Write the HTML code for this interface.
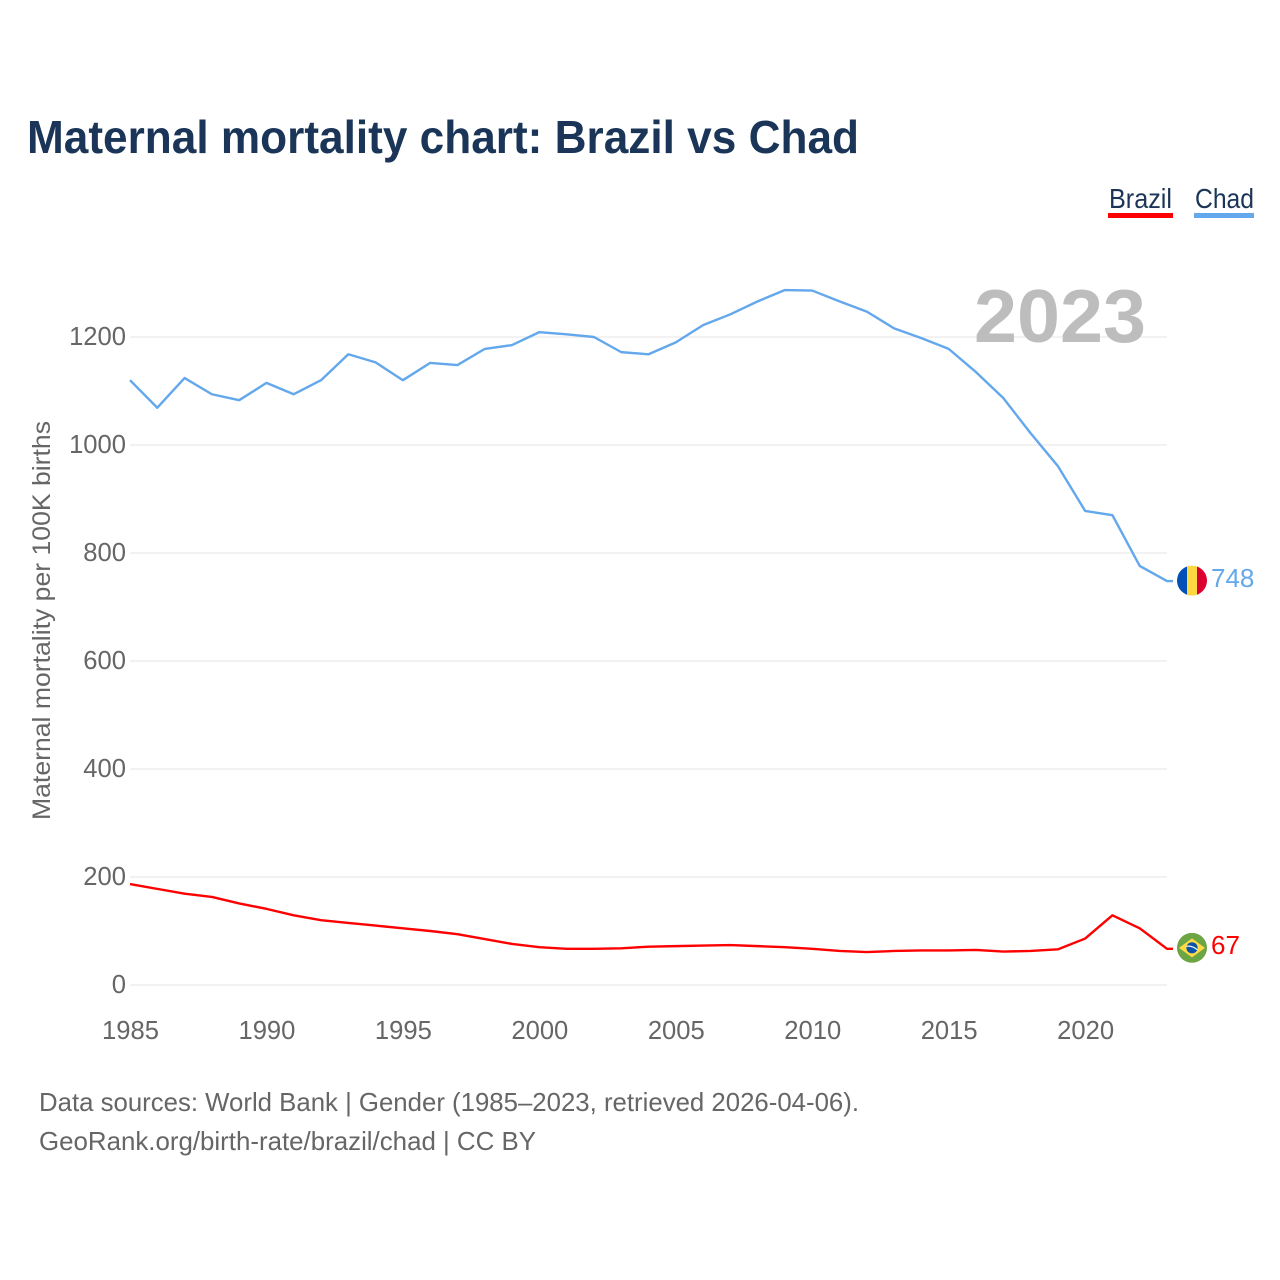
<!DOCTYPE html>
<html lang="en">
<head>
<meta charset="utf-8">
<title>Maternal mortality chart: Brazil vs Chad</title>
<style>
  html, body { margin: 0; padding: 0; background: #fff; }
  svg { display: block; font-family: "Liberation Sans", sans-serif; }
</style>
</head>
<body>
<svg id="chart" xmlns="http://www.w3.org/2000/svg" width="1280" height="1280" viewBox="0 0 1280 1280">
  <rect width="1280" height="1280" fill="#ffffff"/>
  <text x="27" y="153" font-size="46" font-weight="700" fill="#1a3557" textLength="832" lengthAdjust="spacingAndGlyphs">Maternal mortality chart: Brazil vs Chad</text>

  <text x="1109" y="208" font-size="28" fill="#1a3557" textLength="63" lengthAdjust="spacingAndGlyphs">Brazil</text>
  <rect x="1108" y="213" width="65" height="5" fill="#ff0000"/>
  <text x="1195" y="208" font-size="28" fill="#1a3557" textLength="59" lengthAdjust="spacingAndGlyphs">Chad</text>
  <rect x="1194" y="213" width="60" height="5" fill="#63a7ec"/>

  <text transform="translate(50,820) rotate(-90)" font-size="25" fill="#666666" textLength="399" lengthAdjust="spacingAndGlyphs">Maternal mortality per 100K births</text>

  <g id="grid"></g>
  <g id="y-ticks"></g>
  <g id="x-ticks"></g>

  <text x="974" y="342" font-size="75" font-weight="700" fill="#bdbdbd" textLength="172" lengthAdjust="spacingAndGlyphs">2023</text>

  <g id="series"></g>

  <defs>
    <clipPath id="clip-chad"><circle id="clip-chad-circle" r="15"/></clipPath>
    <clipPath id="clip-brazil"><circle id="clip-brazil-circle" r="15"/></clipPath>
  </defs>
  <g id="flag-chad" clip-path="url(#clip-chad)">
    <rect id="chad-blue" width="10" height="30" fill="#0050b5"/>
    <rect id="chad-yellow" width="10" height="30" fill="#fed840"/>
    <rect id="chad-red" width="10" height="30" fill="#dc0030"/>
  </g>
  <g id="flag-brazil" clip-path="url(#clip-brazil)">
    <rect id="brazil-green" width="30" height="30" fill="#6da544"/>
    <polygon id="brazil-diamond" points="0,0" fill="#ffda44"/>
    <circle id="brazil-disc" r="5.6" fill="#0b52a8"/>
    <path id="brazil-band" d="" stroke="#f4f4f4" stroke-width="1.2" fill="none"/>
  </g>
  <text id="value-brazil" x="1211" font-size="26" fill="#ff0000"></text>
  <text id="value-chad" x="1211" font-size="26" fill="#63a7ec"></text>

  <text x="39" y="1111" font-size="26" fill="#666666" textLength="820" lengthAdjust="spacingAndGlyphs">Data sources: World Bank | Gender (1985–2023, retrieved 2026-04-06).</text>
  <text x="39" y="1150" font-size="26" fill="#666666" textLength="497" lengthAdjust="spacingAndGlyphs">GeoRank.org/birth-rate/brazil/chad | CC BY</text>
</svg>

<script>
const years = [1985,1986,1987,1988,1989,1990,1991,1992,1993,1994,1995,1996,1997,1998,1999,2000,2001,2002,2003,2004,2005,2006,2007,2008,2009,2010,2011,2012,2013,2014,2015,2016,2017,2018,2019,2020,2021,2022,2023];
const chadValues = [1120,1069,1124,1094,1083,1115,1094,1120,1168,1153,1120,1152,1148,1178,1185,1209,1205,1200,1172,1168,1190,1222,1242,1266,1287,1286,1266,1247,1216,1198,1178,1135,1087,1022,961,878,870,776,748];
const brazilValues = [187,178,169,163,151,141,129,120,115,110,105,100,94,85,76,70,67,67,68,71,72,73,74,72,70,67,63,61,63,64,64,65,62,63,66,86,129,105,67];
const yTickValues = [0,200,400,600,800,1000,1200];
const xTickValues = [1985,1990,1995,2000,2005,2010,2015,2020];

const NS = 'http://www.w3.org/2000/svg';
const xAt = function (year) { return 130 + (year - 1985) * (1167 - 130) / 38; };
const yAt = function (value) { return 985 - value * 0.54; };

const grid = document.getElementById('grid');
const yTicks = document.getElementById('y-ticks');
const xTicks = document.getElementById('x-ticks');
const series = document.getElementById('series');

yTickValues.forEach(function (v) {
  const line = document.createElementNS(NS, 'line');
  
  
  line.setAttribute('x1', xAt(1985));
  line.setAttribute('x2', xAt(2023));
  line.setAttribute('y1', yAt(v));
  line.setAttribute('y2', yAt(v));
  line.setAttribute('stroke', '#eeeeee');
  line.setAttribute('stroke-width', '1.5');
  grid.appendChild(line);

  const label = document.createElementNS(NS, 'text');
  
  
  label.setAttribute('x', 126);
  label.setAttribute('y', yAt(v) + 8);
  label.setAttribute('text-anchor', 'end');
  label.setAttribute('font-size', '25.6');
  label.setAttribute('fill', '#666666');
  label.textContent = v;
  yTicks.appendChild(label);
});

xTickValues.forEach(function (yr) {
  const label = document.createElementNS(NS, 'text');
  
  
  label.setAttribute('x', xAt(yr) + 0.5);
  label.setAttribute('y', 1039);
  label.setAttribute('text-anchor', 'middle');
  label.setAttribute('font-size', '25.6');
  label.setAttribute('fill', '#666666');
  label.textContent = yr;
  xTicks.appendChild(label);
});

function linePath(values) {
  const pts = values.map(function (v, i) { return xAt(years[i]).toFixed(2) + ',' + yAt(v).toFixed(2); });
  const last = values[values.length - 1];
  pts.push((xAt(years[years.length - 1]) + 6).toFixed(2) + ',' + yAt(last).toFixed(2));
  return pts.join(' ');
}

const chadLine = document.createElementNS(NS, 'polyline');


chadLine.setAttribute('points', linePath(chadValues));
chadLine.setAttribute('fill', 'none');
chadLine.setAttribute('stroke', '#63a7ec');
chadLine.setAttribute('stroke-width', '2.4');
chadLine.setAttribute('stroke-linejoin', 'round');
series.appendChild(chadLine);

const brazilLine = document.createElementNS(NS, 'polyline');


brazilLine.setAttribute('points', linePath(brazilValues));
brazilLine.setAttribute('fill', 'none');
brazilLine.setAttribute('stroke', '#ff0000');
brazilLine.setAttribute('stroke-width', '2.4');
brazilLine.setAttribute('stroke-linejoin', 'round');
series.appendChild(brazilLine);

const flagX = 1192;
const chadEnd = chadValues[chadValues.length - 1];
const brazilEnd = brazilValues[brazilValues.length - 1];
const chadY = yAt(chadEnd) - 0.5;
const brazilY = yAt(brazilEnd) - 1;

const cc = document.getElementById('clip-chad-circle');
cc.setAttribute('cx', flagX);
cc.setAttribute('cy', chadY);
const bc = document.getElementById('clip-brazil-circle');
bc.setAttribute('cx', flagX);
bc.setAttribute('cy', brazilY);

[['chad-blue', -15], ['chad-yellow', -5], ['chad-red', 5]].forEach(function (s) {
  const r = document.getElementById(s[0]);
  r.setAttribute('x', flagX + s[1]);
  r.setAttribute('y', chadY - 15);
});

const bg = document.getElementById('brazil-green');
bg.setAttribute('x', flagX - 15);
bg.setAttribute('y', brazilY - 15);
document.getElementById('brazil-diamond').setAttribute('points',
  (flagX - 13) + ',' + brazilY + ' ' + flagX + ',' + (brazilY - 9.5) + ' ' + (flagX + 13) + ',' + brazilY + ' ' + flagX + ',' + (brazilY + 9.5));
const disc = document.getElementById('brazil-disc');
disc.setAttribute('cx', flagX);
disc.setAttribute('cy', brazilY);
document.getElementById('brazil-band').setAttribute('d',
  'M' + (flagX - 5.5) + ' ' + (brazilY - 1.5) + ' Q' + flagX + ' ' + (brazilY - 2.5) + ' ' + (flagX + 5.5) + ' ' + (brazilY + 2));

const vc = document.getElementById('value-chad');
vc.setAttribute('y', yAt(chadEnd) + 6);
vc.textContent = chadEnd;
const vb = document.getElementById('value-brazil');
vb.setAttribute('y', yAt(brazilEnd) + 5);
vb.textContent = brazilEnd;
</script>
</body>
</html>
